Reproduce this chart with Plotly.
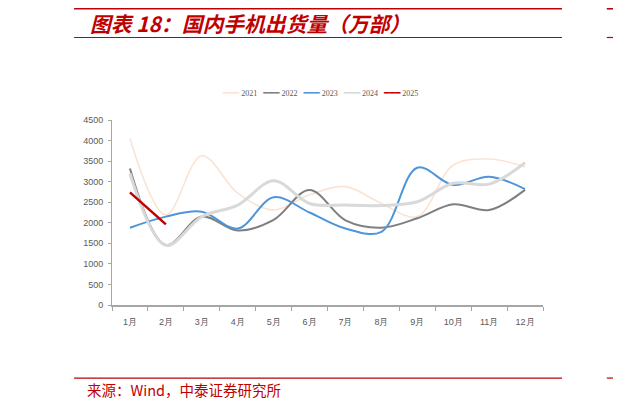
"""国内手机出货量（万部）: monthly shipments 2021-2025, smoothed lines."""
import plotly.graph_objects as go

MONTHS = [f"{i}月" for i in range(1, 13)]

Y2021 = [4050, 2190, 3630, 2720, 2310, 2680, 2880, 2470, 2150, 3400, 3550, 3360]
Y2022 = [3320, 1460, 2150, 1810, 2070, 2800, 2060, 1880, 2110, 2450, 2310, 2800]
Y2023 = [1880, 2150, 2270, 1860, 2620, 2250, 1860, 1780, 3340, 2920, 3120, 2820]
Y2024 = [3200, 1450, 2150, 2430, 3020, 2470, 2430, 2420, 2510, 2960, 2940, 3460]
Y2025 = [2740, 1960]

SERIES = [
    ("2021", Y2021, "#fbe3d3", 1.6, "spline"),
    ("2022", Y2022, "#7f7f7f", 2.0, "spline"),
    ("2023", Y2023, "#4e95d9", 2.0, "spline"),
    ("2024", Y2024, "#d9d9d9", 3.0, "spline"),
    ("2025", Y2025, "#c00000", 2.5, "linear"),
]

RED = "#c00000"
TICK_FONT = dict(family="Liberation Sans Narrow, Liberation Sans, Arial", size=9, color="#595959")

fig = go.Figure()
for name, ys, color, width, shape in SERIES:
    fig.add_trace(go.Scatter(
        x=MONTHS[:len(ys)], y=ys, name=name, mode="lines", showlegend=False,
        line=dict(color=color, width=width, shape=shape, smoothing=1.0),
    ))

# compact legend row (plotly's own legend keys are far wider than the source)
legend_txt = "&nbsp;&nbsp;&nbsp;".join(
    f"<span style='color:{c};font-family:DejaVu Sans;font-size:9px'>━━━</span>&nbsp;{n}"
    for n, _, c, _, _ in SERIES
)
fig.add_annotation(
    text=legend_txt, xref="paper", yref="paper", x=0.483, y=1.146,
    xanchor="center", yanchor="middle", showarrow=False,
    font=dict(family="Liberation Serif, DejaVu Serif", size=8, color="#595959"),
)

# the page body adds an 8px offset, margins compensate for it
fig.update_layout(
    width=621, height=409,
    margin=dict(l=104, r=86, t=112, b=112),
    paper_bgcolor="white", plot_bgcolor="white",
    showlegend=False,
    xaxis=dict(
        type="category", range=[-0.5, 11.5], tickson="boundaries",
        ticks="outside", ticklen=4, tickcolor="#a6a6a6",
        showline=True, linecolor="#a6a6a6", linewidth=1.5,
        showgrid=False, tickfont=TICK_FONT, ticklabelstandoff=7,
    ),
    yaxis=dict(
        range=[0, 4500], dtick=500, ticks="outside", ticklen=3, tickcolor="#a6a6a6",
        showline=True, linecolor="#a6a6a6", linewidth=1,
        showgrid=False, zeroline=False, tickfont=TICK_FONT, ticklabelstandoff=3,
    ),
)

# header / footer rules of the report page
for y0, w in [(1.605, 3), (1.446, 1.2), (-0.395, 1.2)]:
    fig.add_shape(type="line", xref="paper", yref="paper", x0=-0.088, x1=1.044, y0=y0, y1=y0,
                  line=dict(color=RED, width=w))
    fig.add_shape(type="line", xref="paper", yref="paper", x0=1.148, x1=1.2, y0=y0, y1=y0,
                  line=dict(color=RED, width=w))

fig.add_annotation(
    text="<b><i>图表 18：国内手机出货量（万部）</i></b>",
    xref="paper", yref="paper", x=-0.056, y=1.524, xanchor="left", yanchor="middle",
    showarrow=False, font=dict(family="Noto Sans CJK SC", size=20.8, color=RED),
)
fig.add_annotation(
    text="来源：Wind，中泰证券研究所",
    xref="paper", yref="paper", x=-0.063, y=-0.459, xanchor="left", yanchor="middle",
    showarrow=False, font=dict(family="Noto Sans CJK SC", size=14.5, color=RED),
)

fig.write_html("out.html")
